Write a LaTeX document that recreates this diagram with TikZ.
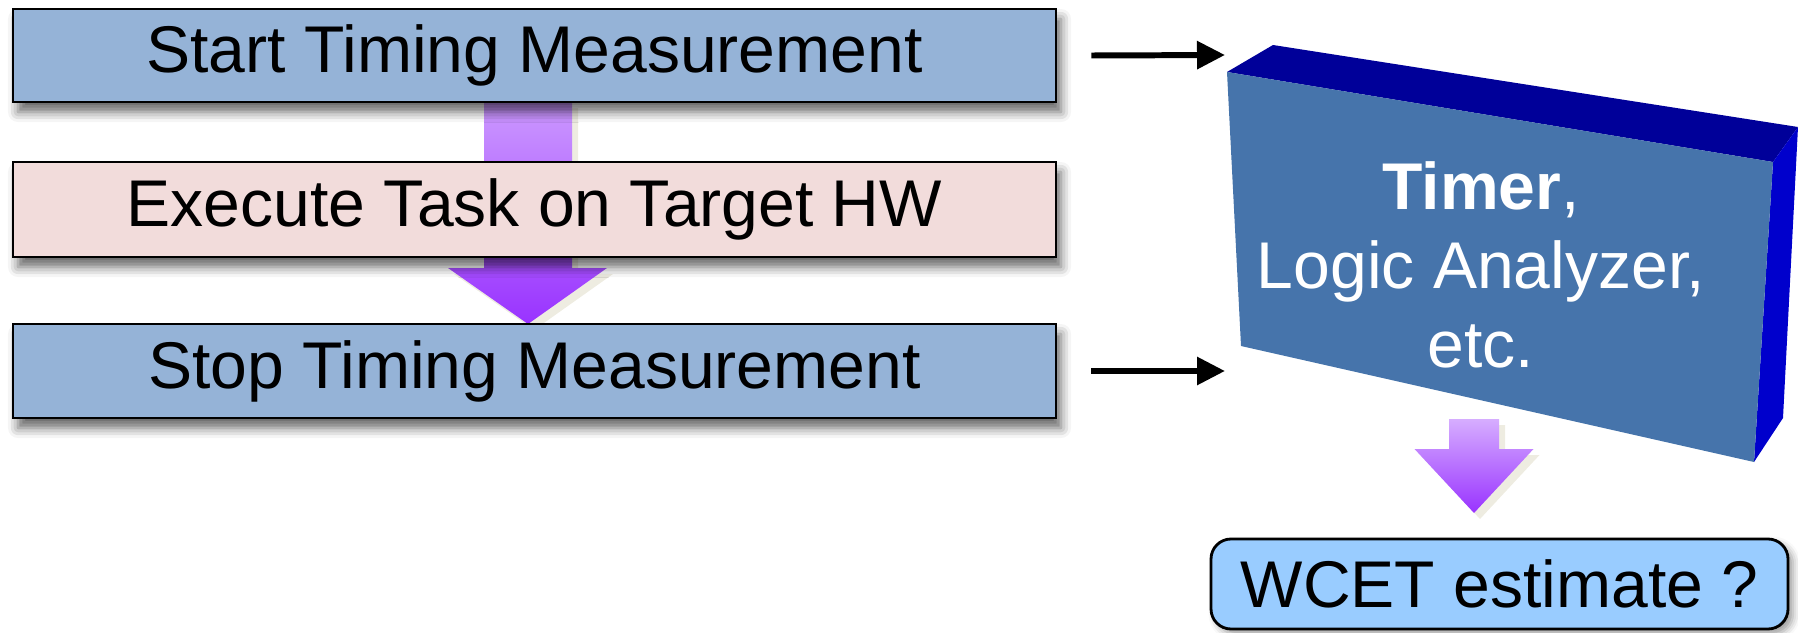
\documentclass[tikz,border=0pt]{standalone}
\usepackage{fontspec}
\setmainfont{Liberation Sans}
\usetikzlibrary{arrows.meta,shadows.blur}

\definecolor{stepblue}{RGB}{149,179,215}
\definecolor{taskpink}{RGB}{242,220,219}
\definecolor{faceblue}{RGB}{70,116,171}
\definecolor{topnavy}{RGB}{0,0,153}
\definecolor{sideblue}{RGB}{0,0,204}
\definecolor{wcetblue}{RGB}{153,204,255}
\definecolor{flowlight}{RGB}{204,153,255}
\definecolor{flowdark}{RGB}{153,51,255}
\definecolor{flowshade}{RGB}{238,236,225}

\begin{document}
\begin{tikzpicture}[
    font=\fontsize{18.8}{22.5}\selectfont,
    stepbox/.style={draw=black,line width=0.8pt,minimum width=10.43cm,
      minimum height=0.93cm,inner sep=0pt,
      blur shadow={shadow xshift=0.5mm,shadow yshift=-1mm,
        shadow blur radius=1mm,shadow opacity=60}},
    flow/.style={top color=flowlight,bottom color=flowdark,
      preaction={fill=flowshade,transform canvas={xshift=0.6mm,yshift=-0.6mm}}},
    sig/.style={line width=1.7pt,-{Triangle[length=2.8mm,width=2.7mm]}}
  ]
  \useasboundingbox (0,0) rectangle (17.98,-6.32);

  % big flow arrow, drawn first so the boxes cover it
  \coordinate (a1) at (5.345,-1.02);
  \coordinate (a2) at (5.345,-3.24);
  \path[flow] ([xshift=-5.05mm]a1) |- ([xshift=-8.65mm,yshift=5.6mm]a2)
    -- ([xshift=-0.65mm]a2) -- ([xshift=7.25mm,yshift=5.6mm]a2)
    -| ([xshift=3.75mm]a1) -- cycle;

  \node[stepbox,fill=stepblue] (start) at (5.345,-0.555) {Start Timing Measurement};
  \node[stepbox,fill=taskpink,minimum height=0.95cm] (exec) at (5.345,-2.095) {Execute Task on Target HW};
  \node[stepbox,fill=stepblue,minimum height=0.94cm] (stop) at (5.345,-3.71) {Stop Timing Measurement};

  % timer block
  \fill[topnavy] (12.73,-0.45) -- (17.98,-1.27) -- (17.73,-1.62) -- (12.27,-0.72) -- cycle;
  \fill[sideblue] (17.98,-1.27) -- (17.83,-4.18) -- (17.54,-4.62) -- (17.73,-1.62) -- cycle;
  \fill[faceblue] (12.27,-0.72) -- (17.73,-1.62) -- (17.54,-4.62) -- (12.41,-3.46) -- cycle;
  \node[text=white,align=center] (timer) at (14.81,-2.65)
    {\textbf{Timer},\\Logic Analyzer,\\etc.};

  \coordinate (in1) at (12.25,-0.55);
  \coordinate (in2) at (12.25,-3.71);
  \draw[sig] ([xshift=3.4mm]start.east) -- (in1);
  \draw[sig] ([xshift=3.4mm]stop.east) -- (in2);

  % result
  \coordinate (tfoot) at (14.74,-4.19);
  \path[flow,top color=flowlight!80!white]
    ([xshift=-2.5mm]tfoot) -- ++(0,-0.3) -- ++(-0.345,0) -- ++(0.595,-0.64)
    -- ++(0.595,0.64) -- ++(-0.345,0) -- ++(0,0.3) -- cycle;
  \node[draw=black,line width=0.8pt,fill=wcetblue,rounded corners=2mm,
    minimum width=5.77cm,minimum height=0.9cm,inner sep=0pt,
    blur shadow={shadow xshift=0.5mm,shadow yshift=-0.5mm,shadow opacity=40}]
    (wcet) at (14.995,-5.84) {WCET estimate ?};
\end{tikzpicture}
\end{document}
